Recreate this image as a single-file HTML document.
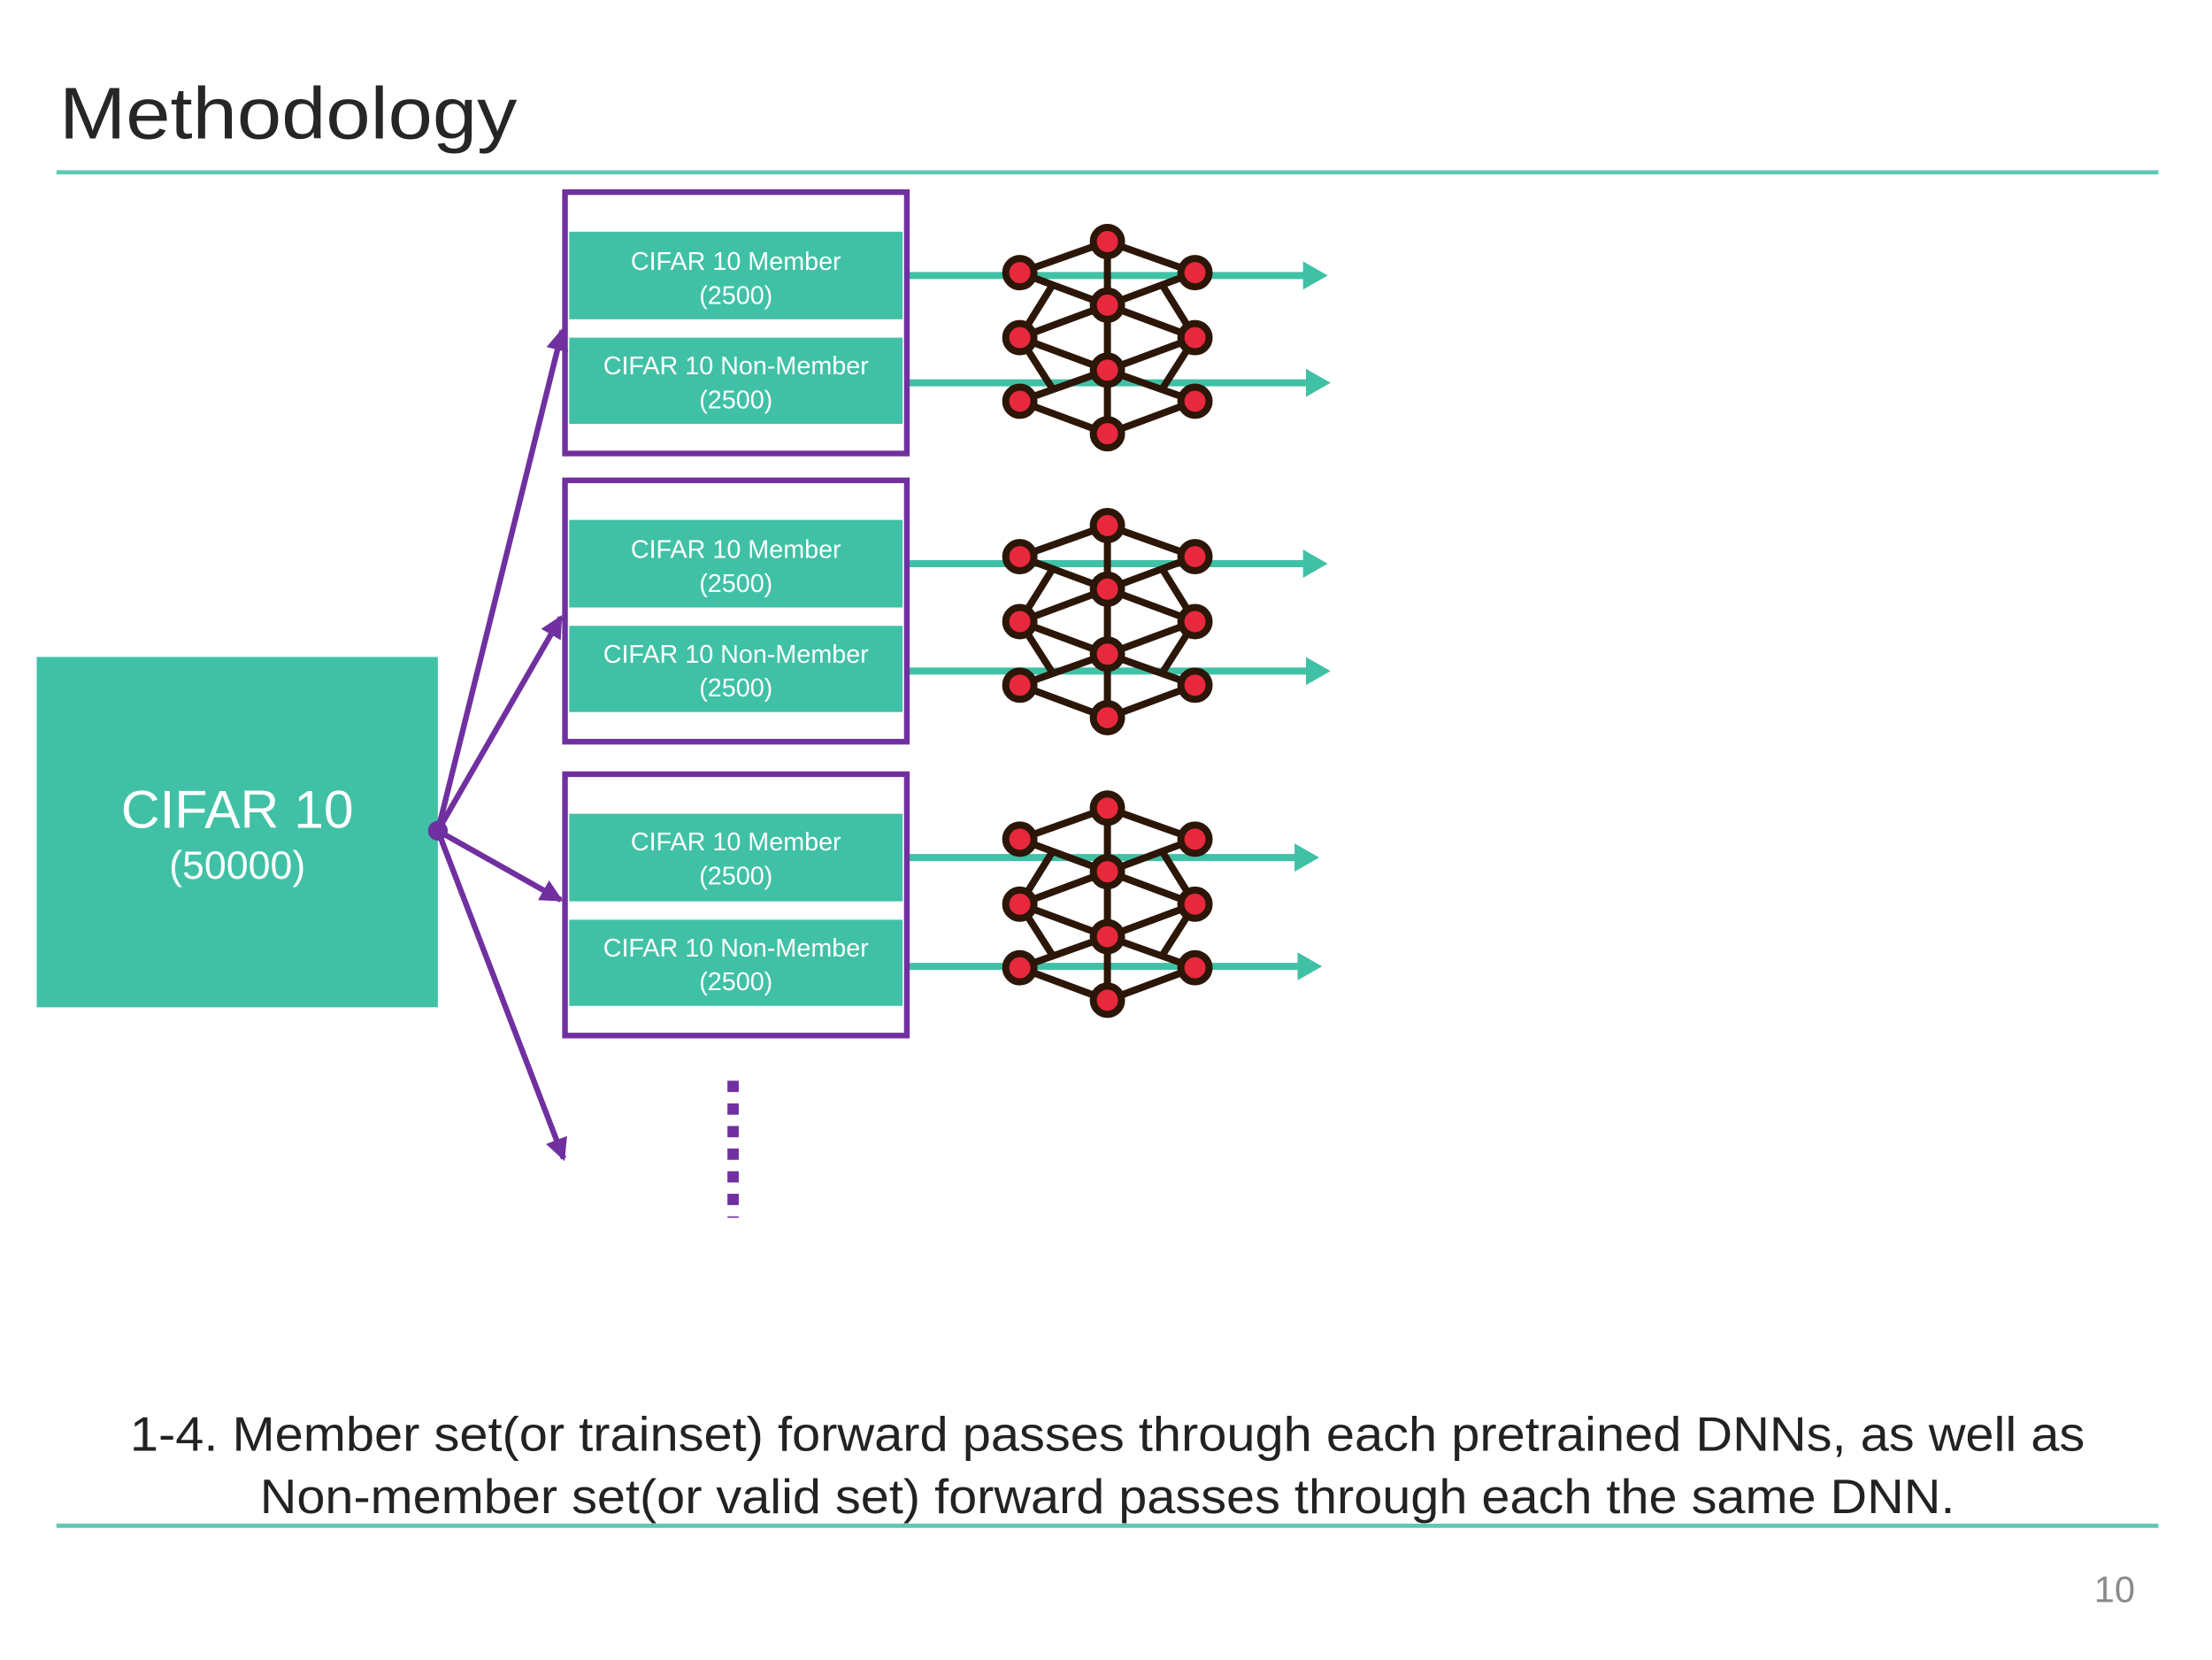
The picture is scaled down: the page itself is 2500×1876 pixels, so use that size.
<!DOCTYPE html>
<html><head><meta charset="utf-8"><style>
html,body{margin:0;padding:0;background:#fff;}
svg{display:block;}
text{font-family:"Liberation Sans","NanumGothic",sans-serif;}
</style></head><body>
<svg width="2500" height="1876" viewBox="0 0 1566 1175" preserveAspectRatio="none" xmlns="http://www.w3.org/2000/svg">
<defs>
<marker id="ga" markerWidth="4" markerHeight="4" refX="2.5" refY="2" orient="auto" markerUnits="strokeWidth"><path d="M0,0 L3.5,2 L0,4 z" fill="#40c1a6"/></marker>
<marker id="pa" markerWidth="4" markerHeight="4" refX="3.5" refY="2" orient="auto" markerUnits="strokeWidth"><path d="M0,0 L4,2 L0,4 z" fill="#7030a0"/></marker>
<g id="net" stroke="#2b1608" stroke-width="5" stroke-linecap="round">
<path d="M784,0 L722,22 L784,45 L846,22 Z M784,0 V136 M784,45 L722,68 L784,91 L846,68 Z M784,91 L722,113 L784,136 L846,113 Z M722,68 L745,31 M722,68 L745,104 M846,68 L823,31 M846,68 L823,104" fill="none"/>
<g fill="#e8283c"><circle cx="784" cy="0" r="10"/><circle cx="722" cy="22" r="10"/><circle cx="846" cy="22" r="10"/><circle cx="722" cy="68" r="10"/><circle cx="784" cy="45" r="10"/><circle cx="846" cy="68" r="10"/><circle cx="722" cy="113" r="10"/><circle cx="784" cy="91" r="10"/><circle cx="846" cy="113" r="10"/><circle cx="784" cy="136" r="10"/></g>
</g>
</defs>
<text x="42" y="98" font-size="52" fill="#262626" textLength="324" lengthAdjust="spacingAndGlyphs">Methodology</text>
<line x1="40" y1="122" x2="1528" y2="122" stroke="#5fc8b5" stroke-width="3"/>
<line x1="40" y1="1080" x2="1528" y2="1080" stroke="#5fc8b5" stroke-width="3"/>
<rect x="26" y="465" width="284" height="248" fill="#40c1a6"/>
<text x="168" y="586" font-size="38" fill="#fff" text-anchor="middle">CIFAR 10</text>
<text x="168" y="622" font-size="28" fill="#fff" text-anchor="middle">(50000)</text>
<g stroke="#40c1a6" stroke-width="5" marker-end="url(#ga)">
<line x1="642" y1="195" x2="935" y2="195"/><line x1="642" y1="271" x2="937" y2="271"/>
<line x1="642" y1="399" x2="935" y2="399"/><line x1="642" y1="475" x2="937" y2="475"/>
<line x1="642" y1="607" x2="929" y2="607"/><line x1="642" y1="684" x2="931" y2="684"/>
</g>
<g fill="#40c1a6">
<rect x="403" y="164" width="236" height="62"/><rect x="403" y="239" width="236" height="61"/>
<rect x="403" y="368" width="236" height="62"/><rect x="403" y="443" width="236" height="61"/>
<rect x="403" y="576" width="236" height="62"/><rect x="403" y="651" width="236" height="61"/>
</g>
<g fill="none" stroke="#7030a0" stroke-width="4">
<rect x="400" y="136" width="242" height="185"/><rect x="400" y="340" width="242" height="185"/><rect x="400" y="548" width="242" height="185"/>
</g>
<g font-size="18" fill="#fff" text-anchor="middle">
<text x="521" y="191">CIFAR 10 Member</text><text x="521" y="215">(2500)</text>
<text x="521" y="265">CIFAR 10 Non-Member</text><text x="521" y="289">(2500)</text>
<text x="521" y="395">CIFAR 10 Member</text><text x="521" y="419">(2500)</text>
<text x="521" y="469">CIFAR 10 Non-Member</text><text x="521" y="493">(2500)</text>
<text x="521" y="602">CIFAR 10 Member</text><text x="521" y="626">(2500)</text>
<text x="521" y="677">CIFAR 10 Non-Member</text><text x="521" y="701">(2500)</text>
</g>
<use href="#net" transform="translate(0,171)"/>
<use href="#net" transform="translate(0,372)"/>
<use href="#net" transform="translate(0,572)"/>
<g stroke="#7030a0" stroke-width="4" marker-end="url(#pa)">
<line x1="310" y1="588" x2="398" y2="234"/>
<line x1="310" y1="588" x2="397" y2="437"/>
<line x1="310" y1="588" x2="397" y2="637"/>
<line x1="310" y1="588" x2="399" y2="820"/>
</g>
<circle cx="310" cy="588" r="7" fill="#7030a0"/>
<line x1="519" y1="765" x2="519" y2="862" stroke="#7030a0" stroke-width="8" stroke-dasharray="8,8"/>
<g font-size="34" fill="#222" text-anchor="middle">
<text x="784" y="1027" textLength="1384" lengthAdjust="spacingAndGlyphs">1-4. Member set(or trainset) forward passes through each pretrained DNNs, as well as</text>
<text x="784" y="1071" textLength="1200" lengthAdjust="spacingAndGlyphs">Non-member set(or valid set) forward passes through each the same DNN.</text>
</g>
<text x="1497" y="1134" font-size="26" fill="#8a8a8a" text-anchor="middle">10</text>
</svg>
</body></html>
